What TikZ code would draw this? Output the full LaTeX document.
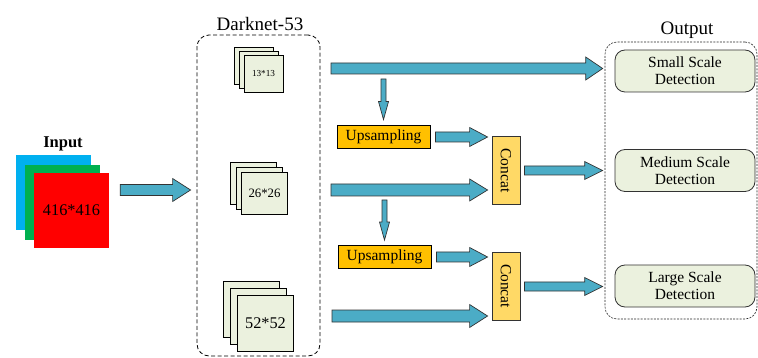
\documentclass[tikz,border=0pt]{standalone}
\usepackage{fontspec}
\setmainfont{Liberation Serif}
\usetikzlibrary{calc}
\definecolor{arrowblue}{HTML}{4BACC6}
\definecolor{paleg}{HTML}{EBF1DE}
\definecolor{orangeup}{HTML}{FFC000}
\definecolor{concaty}{HTML}{FFD966}
\definecolor{inblue}{HTML}{00B0F0}
\definecolor{ingreen}{HTML}{00B050}
\definecolor{inred}{HTML}{FF0000}
\newcommand\blockarr[5]{% start, end, shaft half, head half, head length
  \coordinate (bah) at ($(#2)!#5!(#1)$);
  \draw[blockarrowstyle] ($(#1)!#3!90:(#2)$) -- ($(bah)!#3!90:(#2)$) -- ($(bah)!#4!90:(#2)$) -- (#2)
    -- ($(bah)!#4!-90:(#2)$) -- ($(bah)!#3!-90:(#2)$) -- ($(#1)!#3!-90:(#2)$) -- cycle;
}
\begin{document}
\begin{tikzpicture}[x=1pt,y=-1pt,
  blockarrowstyle/.style={fill=arrowblue,draw=black!80,line width=0.7pt,line join=miter},
  sq/.style={draw=black,line width=0.8pt,fill=paleg,inner sep=0pt},
  insq/.style={draw=none,minimum width=75pt,minimum height=75pt,inner sep=0pt},
  upbox/.style={draw=black,line width=0.8pt,fill=orangeup,minimum width=93pt,minimum height=23pt,inner sep=0pt,font=\fontsize{15.5}{18}\selectfont},
  concatbox/.style={draw=black!80,line width=0.8pt,fill=concaty,rotate=-90,minimum width=68pt,minimum height=28pt,inner sep=0pt,font=\fontsize{15.5}{18}\selectfont},
  detbox/.style={draw=black!80,line width=0.8pt,fill=paleg,rounded corners=10pt,minimum width=140pt,minimum height=42pt,inner sep=0pt,align=center,font=\fontsize{15.5}{17}\selectfont},
  groupbox/.style={rounded corners=12pt,inner sep=0pt},
  title/.style={font=\fontsize{19}{22}\selectfont,inner sep=0pt}
]
\useasboundingbox (0,0) rectangle (758,358);

% Input
\node[insq,fill=inblue] (inb) at (53.5,192.5) {};
\node[insq,fill=ingreen] (ing) at (62.5,202.5) {};
\node[insq,fill=inred,font=\fontsize{16.3}{18}\selectfont] (inr) at (71.5,210.5) {416*416};
\node[font=\bfseries\fontsize{16.5}{19}\selectfont,inner sep=0pt] (inlabel) at (63,144) {Input};

% Darknet box
\node[groupbox,draw=black,line width=0.8pt,dash pattern=on 4pt off 2.5pt,minimum width=123pt,minimum height=321pt] (dark) at (258.5,195.5) {};
\node[title] (darkt) at (260,24) {Darknet-53};

% 13*13 stack
\node[sq,minimum width=39pt,minimum height=37pt] (s13c) at (253.5,65.5) {};
\node[sq,minimum width=39pt,minimum height=37pt] (s13b) at (258.5,69.5) {};
\node[sq,minimum width=39pt,minimum height=37pt,font=\fontsize{9.2}{10}\selectfont] (s13) at (263.5,74) {13*13};
% 26*26 stack
\node[sq,minimum width=46pt,minimum height=42pt] (s26c) at (253,183) {};
\node[sq,minimum width=46pt,minimum height=42pt] (s26b) at (259,188) {};
\node[sq,minimum width=46pt,minimum height=42pt,font=\fontsize{12.8}{14}\selectfont] (s26) at (264.5,193) {26*26};
% 52*52 stack
\node[sq,minimum width=56pt,minimum height=56pt] (s52c) at (251.5,309) {};
\node[sq,minimum width=56pt,minimum height=56pt] (s52b) at (258.5,316) {};
\node[sq,minimum width=56pt,minimum height=56pt,font=\fontsize{16.3}{18}\selectfont] (s52) at (265.5,323) {52*52};

% Upsampling and concat
\node[upbox] (up1) at (383.5,136.5) {Upsampling};
\node[upbox] (up2) at (384.5,257) {Upsampling};
\node[concatbox] (cc1) at (506,170.5) {Concat};
\node[concatbox] (cc2) at (506,286) {Concat};

% Output box
\node[groupbox,draw=black!85,line width=0.6pt,dash pattern=on 2pt off 1.3pt,minimum width=152pt,minimum height=277pt] (outb) at (681,180.5) {};
\node[title] (outt) at (687,30) {Output};
\node[detbox] (det1) at (685,71) {Small Scale\\Detection};
\node[detbox] (det2) at (685,170.5) {Medium Scale\\Detection};
\node[detbox] (det3) at (685,286) {Large Scale\\Detection};

% connector end points
\coordinate (a0s) at ($(inr.east)+(11,-20.5)$);
\coordinate (a0e) at ($(dark.west |- a0s)+(-6,0)$);
\coordinate (a1s) at (331,68.5);
\coordinate (a1e) at ($(outb.west |- a1s)+(-2,0)$);
\coordinate (d1s) at (383.5,79);
\coordinate (d1e) at ($(up1.north)+(0,-5)$);
\coordinate (u1s) at ($(up1.east)+(5,0.5)$);
\coordinate (u1e) at ($(cc1.south |- u1s)+(-4,0)$);
\coordinate (a2s) at (331,190);
\coordinate (a2e) at ($(cc1.south |- a2s)+(-4,0)$);
\coordinate (c1s) at ($(cc1.north)+(4,0)$);
\coordinate (c1e) at ($(outb.west |- c1s)+(-2,0)$);
\coordinate (d2s) at (384.5,200);
\coordinate (d2e) at ($(up2.north)+(0,-5)$);
\coordinate (u2s) at ($(up2.east)+(5,0)$);
\coordinate (u2e) at ($(cc2.south |- u2s)+(-4,0)$);
\coordinate (a3s) at (332,316);
\coordinate (a3e) at ($(cc2.south |- a3s)+(-4,0)$);
\coordinate (c2s) at ($(cc2.north)+(4,0.5)$);
\coordinate (c2e) at ($(outb.west |- c2s)+(-2,0)$);

% block arrows
\blockarr{a0s}{a0e}{5.5pt}{11.5pt}{18pt}
\blockarr{a1s}{a1e}{5.5pt}{11.5pt}{17pt}
\blockarr{d1s}{d1e}{2.5pt}{5pt}{18pt}
\blockarr{u1s}{u1e}{5pt}{9.5pt}{18pt}
\blockarr{a2s}{a2e}{6pt}{11pt}{18pt}
\blockarr{c1s}{c1e}{4.5pt}{9pt}{18pt}
\blockarr{d2s}{d2e}{2.5pt}{5pt}{18pt}
\blockarr{u2s}{u2e}{5pt}{9.5pt}{18pt}
\blockarr{a3s}{a3e}{6pt}{11.5pt}{18pt}
\blockarr{c2s}{c2e}{4.5pt}{9pt}{18pt}
\end{tikzpicture}
\end{document}
